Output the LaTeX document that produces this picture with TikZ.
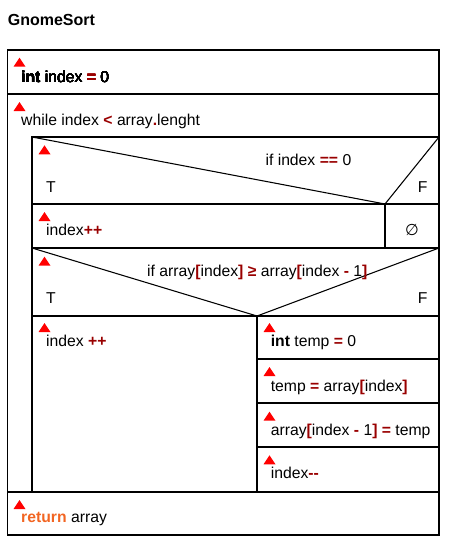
\documentclass[tikz,border=0pt]{standalone}
\usepackage{fontspec}
\setmainfont{Liberation Sans}
\newfontfamily\symfont{DejaVu Sans}
\usepackage{xcolor}
\usetikzlibrary{positioning}
\definecolor{opred}{HTML}{990000}
\definecolor{kworange}{HTML}{F26522}
\newcommand{\op}[1]{\textcolor{opred}{\textbf{#1}}}
\newcommand{\redtri}[1]{\fill[red] (#1) ++(-6,0) -- ++(12,0) -- ++(-6,-9) -- cycle;}

\begin{document}
\begin{tikzpicture}[x=0.75pt,y=-0.75pt,line width=0.8pt,
  txt/.style={anchor=base west,inner sep=0pt,font=\fontsize{11.8}{14}\selectfont}]
\useasboundingbox (0,0) rectangle (450,551);
% title
\node[anchor=base west,inner sep=0pt,font=\fontsize{12}{14}\selectfont\bfseries] (title) at (7.3,25.5) {GnomeSort};
% frame and blocks
\draw (7.5,50) rectangle (439,535);
\draw (7.5,94) -- (439,94);
\draw (7.5,492) -- (439,492);
\draw (32,492) -- (32,137) -- (439,137);
% if index == 0
\draw (32,137) -- (385,204) -- (439,137);
\draw (32,204) -- (439,204);
\draw (385,204) -- (385,248);
\draw (32,248) -- (439,248);
% if array[index] >= array[index-1]
\draw (32,248) -- (257,316) -- (439,248);
\draw (32,316) -- (439,316);
\draw (257,316) -- (257,492);
\foreach \yy in {359,403,447}
  \draw (257,\yy) -- (439,\yy);
% red markers
\foreach \p in {{19.5,66.7},{19.5,111},{44.5,154.3},{44.5,221},{44.5,265.7},
                {44.5,332},{269.5,332},{269.5,376},{269.5,420.7},{269.5,464.3},{19.5,509}}
  \redtri{\p}
% texts
\node[txt] (init) at (20.7,82) {\textbf{int} index \op{=} 0};
\node[txt] (loop) at (20.7,125) {while index \op{<} array\op{.}lenght};
\node[txt] (cond1) at (265,165) {if index \op{==} 0};
\node[txt] (t1) at (45.7,192) {T};
\node[txt] (f1) at (417.3,192) {F};
\node[txt] (inc1) at (45.7,235.3) {index\op{++}};
\node[txt,anchor=base] (empty) at (412,235.3) {\symfont ∅};
\node[txt] (cond2) at (146.7,276.7) {if array\op{[}index\op{]} \op{≥} array\op{[}index \op{-} 1\op{]}};
\node[txt] (t2) at (45.7,303.3) {T};
\node[txt] (f2) at (417.3,303.3) {F};
\node[txt] (inc2) at (45.7,346) {index \op{++}};
\node[txt] (decl) at (270.3,346) {\textbf{int} temp \op{=} 0};
\node[txt] (save) at (270.3,391) {temp \op{=} array\op{[}index\op{]}};
\node[txt] (swap) at (270.3,435) {array\op{[}index \op{-} 1\op{]} \op{=} temp};
\node[txt] (dec) at (270.3,478.3) {index\op{-{}-}};
\node[txt] (ret) at (20.7,522.7) {\textcolor{kworange}{\textbf{return}} array};
\end{tikzpicture}
\end{document}
